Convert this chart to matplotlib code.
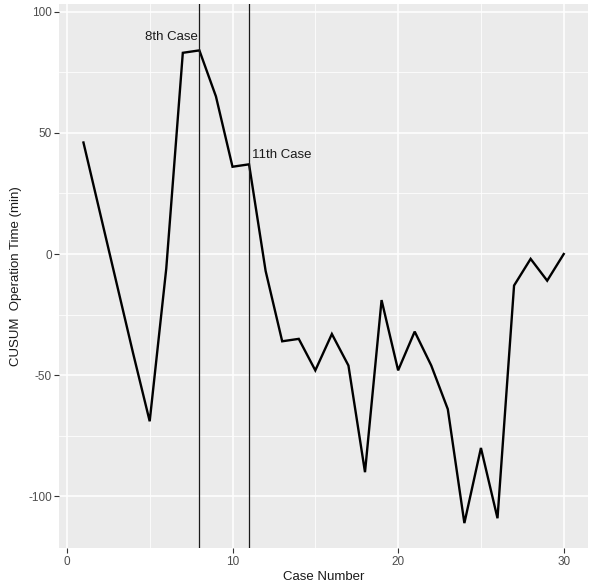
import numpy as np
import matplotlib
matplotlib.use("Agg")
import matplotlib.pyplot as plt
from matplotlib.ticker import MultipleLocator

# CUSUM of operation time per case
case = list(range(1, 31))
cusum = [46, 17, -12, -41, -69, -6, 83, 84, 65, 36,
         37, -7, -36, -35, -48, -33, -46, -90, -19, -48,
         -32, -46, -64, -111, -80, -109, -13, -2, -11, 0]
marks = [8, 11]
mark_labels = ["8th Case", "11th Case"]

plt.rcParams["font.family"] = ["Liberation Sans", "DejaVu Sans"]
plt.rcParams["axes.unicode_minus"] = False

fig = plt.figure(figsize=(5.89, 5.84), dpi=100)
ax = fig.add_axes([0.1009, 0.0611, 0.897, 0.9315])
ax.set_facecolor("#EBEBEB")
for s in ax.spines.values():
    s.set_visible(False)

ax.set_xlim(-0.45, 31.45)
ax.set_ylim(-121.4, 103)
ax.xaxis.set_major_locator(MultipleLocator(10))
ax.xaxis.set_minor_locator(MultipleLocator(5))
ax.yaxis.set_major_locator(MultipleLocator(50))
ax.yaxis.set_minor_locator(MultipleLocator(25))
ax.grid(which="major", color="white", lw=1.1)
ax.grid(which="minor", color="white", lw=0.55)
ax.set_axisbelow(True)
ax.tick_params(which="major", length=3.5, width=0.8, color="#333333",
               labelcolor="#4D4D4D", labelsize=8.5, pad=2)
ax.tick_params(which="minor", length=0)

ax.plot(case, cusum, color="black", lw=1.7, solid_joinstyle="miter")
for m in marks:
    ax.axvline(m, color="#1a1a1a", lw=0.9)

ax.text(7.9, 89.4, mark_labels[0], ha="right", va="center", fontsize=9.5, color="#1a1a1a")
ax.text(11.2, 41, mark_labels[1], ha="left", va="center", fontsize=9.5, color="#1a1a1a")

ax.set_xlabel("Case Number", fontsize=9.5, color="#1a1a1a", labelpad=2)
ax.set_ylabel("CUSUM  Operation Time (min)", fontsize=9.5, color="#1a1a1a", labelpad=4)

fig.savefig("out.png", dpi=100)
